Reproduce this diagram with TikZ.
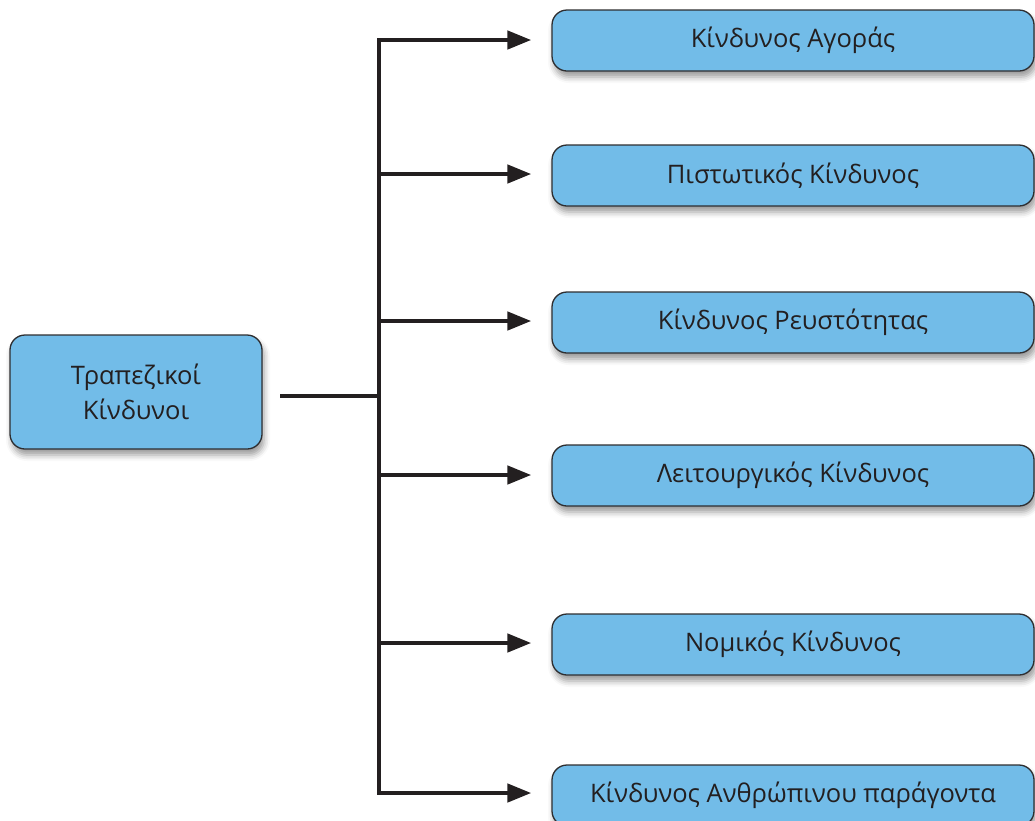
\documentclass[tikz,border=0pt]{standalone}
\usepackage{fontspec}
\setmainfont{Open Sans}
\usetikzlibrary{arrows.meta,shadows.blur,positioning}
\definecolor{boxfill}{HTML}{72BCE8}
\definecolor{boxline}{HTML}{2E2E30}
\definecolor{ink}{HTML}{231F20}
\tikzset{
  riskbox/.style={draw=boxline, line width=1.3pt, fill=boxfill, rounded corners=15pt,
    text=ink, font=\fontsize{25.5}{35}\selectfont, align=center, inner sep=0pt,
    blur shadow={shadow xshift=2pt, shadow yshift=-6pt, shadow blur radius=6pt, shadow opacity=40}},
  rightbox/.style={riskbox, minimum width=482pt, minimum height=61pt},
  link/.style={draw=ink, line width=4.5pt},
  branch/.style={link, -{Triangle[length=24pt, width=18pt]}, shorten >=20pt},
}
\begin{document}
\begin{tikzpicture}[x=1pt, y=-1pt]
  \useasboundingbox (0,0) rectangle (1035,820);
  % root node
  \node[riskbox, minimum width=252pt, minimum height=114pt] (root) at (136,392)
    {Τραπεζικοί\\Κίνδυνοι};
  % categories
  \node[rightbox] (r1) at (793,40.5)  {Κίνδυνος Αγοράς};
  \node[rightbox] (r2) at (793,175.5) {Πιστωτικός Κίνδυνος};
  \node[rightbox] (r3) at (793,322.5) {Κίνδυνος Ρευστότητας};
  \node[rightbox] (r4) at (793,475.5) {Λειτουργικός Κίνδυνος};
  \node[rightbox] (r5) at (793,644.5) {Νομικός Κίνδυνος};
  \node[rightbox] (r6) at (793,795.5) {Κίνδυνος Ανθρώπινου παράγοντα};
  % trunk of the tree
  \coordinate (start) at (280,396);
  \coordinate (hub) at (379,396);
  \coordinate (top) at (379,40);
  \coordinate (bottom) at (379,793);
  \draw[link] (start) -- (hub);
  \draw[link, line cap=rect] (top) -- (bottom);
  % branches
  \foreach \r/\yy in {r1/40, r2/174, r3/321, r4/475, r5/643, r6/793}{
    \draw[branch] (379,\yy) -- (\r.west |- 0,\yy);
  }
\end{tikzpicture}
\end{document}
